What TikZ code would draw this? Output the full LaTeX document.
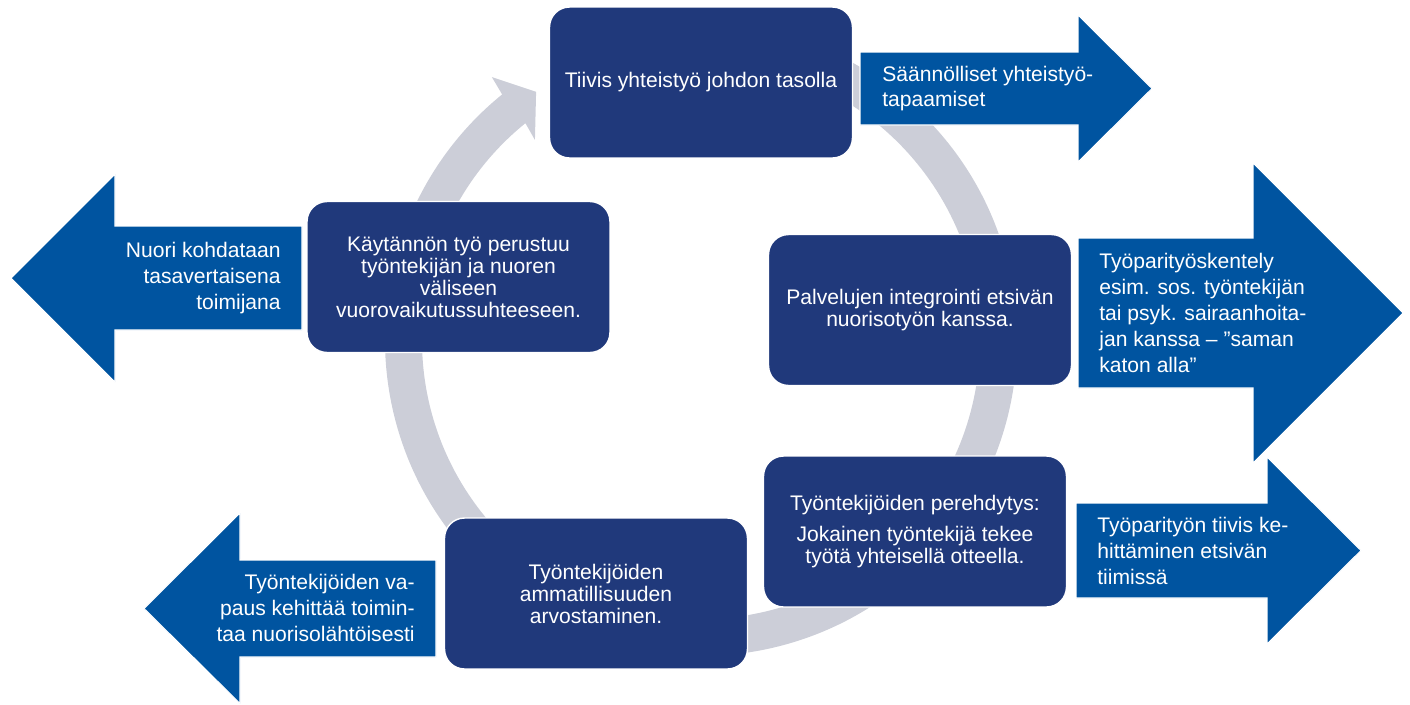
\documentclass[tikz,border=0pt]{standalone}
\usepackage{fontspec}
\setmainfont{Liberation Sans}
\definecolor{boxblue}{RGB}{32,57,123}
\definecolor{arrowblue}{RGB}{0,84,160}
\definecolor{ringgray}{RGB}{204,206,216}

\tikzset{
  phase/.style={rectangle, rounded corners=0.4cm, fill=boxblue, draw=white, line width=0.8pt,
    text=white, minimum width=6.06cm, minimum height=3.02cm, align=center,
    font=\fontsize{12}{12.5}\selectfont},
  outarrow/.style={fill=arrowblue, draw=white, line width=0.6pt},
  outtext/.style={text=white, inner sep=0pt, font=\fontsize{12}{14.7}\selectfont}
}

\begin{document}
\begin{tikzpicture}[x=0.02cm,y=0.02cm]
   \useasboundingbox (0,0) rectangle (1410,-704);
   % kiertava nuoli
   \begin{scope}[shift={(701,-340)}]
     \fill[ringgray] (100:316) arc[start angle=100, end angle=-231, radius=316]
        -- (-231.5:336) -- (-236.4:298) -- (-230.3:260) -- (-231:279)
        arc[start angle=-231, end angle=100, radius=279] -- cycle;
   \end{scope}
   % nuolet ulospain
   \draw[outarrow] (860,-52) -- (1078,-52) -- (1078,-15) -- (1152,-88.5) -- (1078,-162) -- (1078,-125) -- (860,-125) -- cycle;
   \draw[outarrow] (1078,-238) -- (1253,-238) -- (1253,-163) -- (1403,-313) -- (1253,-463) -- (1253,-388) -- (1078,-388) -- cycle;
   \draw[outarrow] (1076,-503) -- (1267,-503) -- (1267,-457) -- (1361,-550.5) -- (1267,-644) -- (1267,-598) -- (1076,-598) -- cycle;
   \draw[outarrow] (302,-226) -- (115,-226) -- (115,-174) -- (11,-278) -- (115,-382) -- (115,-330) -- (302,-330) -- cycle;
   \draw[outarrow] (436,-560) -- (240,-560) -- (240,-513) -- (144,-608.5) -- (240,-703.5) -- (240,-657) -- (436,-657) -- cycle;
   % laatikot
   \node[phase] (johto) at (701,-82.5) {Tiivis yhteistyö johdon tasolla};
   \node[phase] (integrointi) at (920,-310) {Palvelujen integrointi etsivän\\nuorisotyön kanssa.};
   \node[phase] (perehdytys) at (915,-531.5) {Työntekijöiden perehdytys:\\[5pt]Jokainen työntekijä tekee\\työtä yhteisellä otteella.};
   \node[phase] (arvostus) at (596,-593.5) {Työntekijöiden\\ammatillisuuden\\arvostaminen.};
   \node[phase] (kaytanto) at (458.5,-277) {Käytännön työ perustuu\\työntekijän ja nuoren\\väliseen\\vuorovaikutussuhteeseen.};
   % nuolten tekstit
   \node[outtext, anchor=west, align=left] (tapaamiset) at (882,-88.5) {Säännölliset yhteistyö-\\tapaamiset};
   \node[outtext, anchor=west, align=left] (tyopari) at (1099,-313) {Työparityöskentely\\esim. sos. työntekijän\\tai psyk. sairaanhoita-\\jan kanssa – ”saman\\katon alla”};
   \node[outtext, anchor=west, align=left] (kehittaminen) at (1097,-551) {Työparityön tiivis ke-\\hittäminen etsivän\\tiimissä};
   \node[outtext, anchor=east, align=right] (tasavertainen) at (281,-278) {Nuori kohdataan\\tasavertaisena\\toimijana};
   \node[outtext, anchor=east, align=right] (vapaus) at (415,-608) {Työntekijöiden va-\\paus kehittää toimin-\\taa nuorisolähtöisesti};
\end{tikzpicture}
\end{document}
